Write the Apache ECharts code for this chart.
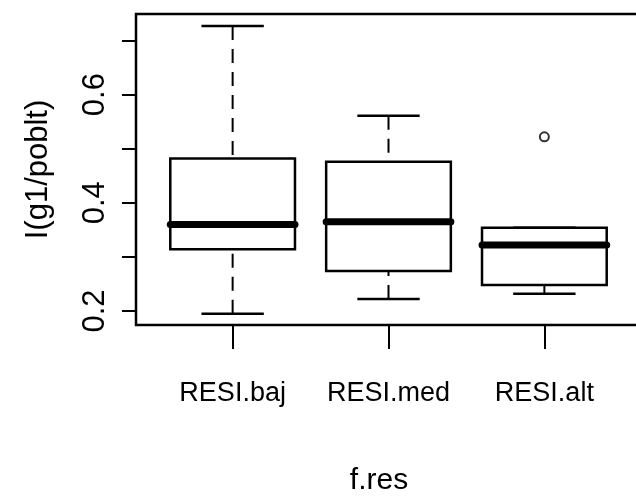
<!DOCTYPE html>
<html>
<head>
<meta charset="utf-8">
<script src="https://cdn.jsdelivr.net/npm/echarts@6/dist/echarts.min.js"></script>
<style>html,body{margin:0;padding:0;background:#fff}#c{width:636px;height:504px}</style>
</head>
<body>
<div id="c"></div>
<script>
// Categories and box statistics
const categories = ['RESI.baj', 'RESI.med', 'RESI.alt'];
const whiskerLow = [0.195, 0.222, 0.232];
const quartile1  = [0.314, 0.274, 0.248];
const medians    = [0.360, 0.365, 0.322];
const quartile3  = [0.482, 0.476, 0.354];
const whiskerHigh= [0.727, 0.561, 0.354];
const outliers   = [[3, 0.522]]; // [category position (1-based), value]
const yTicks = [0.2, 0.3, 0.4, 0.5, 0.6, 0.7];
const yLabels = [0.2, 0.4, 0.6];
const xTicks = [1, 2, 3];

const boxData = categories.map((c, i) => [i + 1, whiskerLow[i], quartile1[i], medians[i], quartile3[i], whiskerHigh[i]]);

const regular = '"Liberation Sans", Arial, sans-serif';

const chart = echarts.init(document.getElementById('c'), null, {renderer: 'canvas'});
chart.setOption({
  animation: false,
  backgroundColor: '#fff',
  grid: {left: 136, top: 14, width: 505, height: 311, containLabel: false, outerBoundsMode: 'none', show: true, borderColor: '#000', borderWidth: 2.5, backgroundColor: 'transparent'},
  xAxis: {
    type: 'value', min: 0.38, max: 3.62,
    name: 'f.res', nameLocation: 'middle', nameGap: 141,
    nameTextStyle: {fontFamily: regular, fontSize: 30, color: '#000', padding: [0, 19, 0, 0]},
    axisLine: {show: false},
    splitLine: {show: false},
    axisTick: {show: true, customValues: xTicks, length: 24, lineStyle: {color: '#000', width: 2}},
    axisLabel: {customValues: xTicks, formatter: v => categories[Math.round(v) - 1], fontFamily: regular, fontSize: 27, color: '#000', margin: 55}
  },
  yAxis: {
    type: 'value', min: 0.174, max: 0.749,
    name: 'I(g1/poblt)', nameLocation: 'middle', nameRotate: 90, nameGap: 82,
    nameTextStyle: {fontFamily: regular, fontSize: 31, color: '#000'},
    axisLine: {show: false},
    splitLine: {show: false},
    axisTick: {show: true, customValues: yTicks, length: 14, lineStyle: {color: '#000', width: 2}},
    axisLabel: {customValues: yLabels, rotate: 90, formatter: v => v.toFixed(1), fontFamily: regular, fontSize: 31, color: '#000', margin: 25}
  },
  series: [
    {
      type: 'custom',
      data: boxData,
      encode: {x: 0, y: [1, 2, 3, 4, 5]},
      renderItem: function (params, api) {
        const x = api.value(0);
        const mn = api.value(1), q1 = api.value(2), md = api.value(3), q3 = api.value(4), mx = api.value(5);
        const halfBox = api.size([0.8, 0])[0] / 2;
        const halfCap = halfBox / 2;
        const pMn = api.coord([x, mn]), pQ1 = api.coord([x, q1]), pMd = api.coord([x, md]), pQ3 = api.coord([x, q3]), pMx = api.coord([x, mx]);
        const cx = pMd[0];
        const black = '#000';
        return {
          type: 'group',
          children: [
            {type: 'rect', shape: {x: cx - halfBox, y: pQ3[1], width: halfBox * 2, height: pQ1[1] - pQ3[1]}, style: {fill: '#fff', stroke: black, lineWidth: 2.5}},
            {type: 'line', shape: {x1: cx, y1: pMx[1], x2: cx, y2: pQ3[1]}, style: {stroke: black, lineWidth: 2, lineDash: [14, 9]}},
            {type: 'line', shape: {x1: cx, y1: pMn[1], x2: cx, y2: pQ1[1]}, style: {stroke: black, lineWidth: 2, lineDash: [14, 9]}},
            {type: 'line', shape: {x1: cx - halfCap, y1: pMx[1], x2: cx + halfCap, y2: pMx[1]}, style: {stroke: black, lineWidth: 2.5}},
            {type: 'line', shape: {x1: cx - halfCap, y1: pMn[1], x2: cx + halfCap, y2: pMn[1]}, style: {stroke: black, lineWidth: 2.5}},
            {type: 'line', shape: {x1: cx - halfBox, y1: pMd[1], x2: cx + halfBox, y2: pMd[1]}, style: {stroke: black, lineWidth: 7, lineCap: 'round'}}
          ]
        };
      }
    },
    {
      type: 'scatter',
      data: outliers,
      symbol: 'emptyCircle',
      symbolSize: 9,
      itemStyle: {color: '#000', borderColor: '#000', borderWidth: 1.5}
    }
  ]
});
</script>
</body>
</html>
